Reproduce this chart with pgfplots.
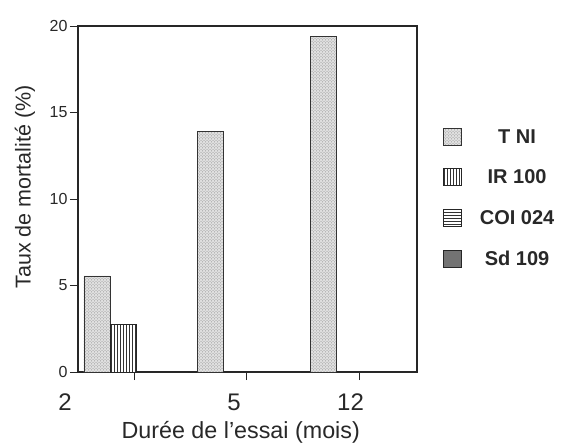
\documentclass[border=0pt]{standalone}
\usepackage{pgfplots}
\pgfplotsset{compat=1.18}
\usepackage{fontspec}
\setmainfont{Liberation Sans}
\usetikzlibrary{patterns}
\definecolor{txt}{RGB}{40,40,40}
\newcommand{\legtxt}[1]{\makebox[80pt]{\hspace{26pt}#1}}
\begin{document}
\begin{tikzpicture}
\begin{axis}[
  scale only axis,
  width=339pt, height=346pt,
  xmin=0, xmax=339, ymin=0, ymax=20,
  clip=false,
  axis line style={line width=1.3pt, black!85},
  ytick={0,5,10,15,20},
  xtick={56,168,281},
  xticklabels={},
  tick align=outside,
  xtick pos=bottom, ytick pos=left,
  major tick length=8pt,
  tick style={line width=1pt, black!85},
  /pgf/number format/assume math mode=true,
  yticklabel style={font=\fontsize{16}{18}\selectfont, text=txt, xshift=1pt},
  ylabel={Taux de mortalité (\%)},
  ylabel style={at={(axis description cs:0,0.535)}, anchor=center, yshift=53pt, font=\fontsize{21.5}{24}\selectfont, text=txt},
  xlabel={Durée de l’essai (mois)},
  xlabel style={at={(axis description cs:0.48,0)}, anchor=center, yshift=-60pt, font=\fontsize{23.3}{26}\selectfont, text=txt},
  legend style={draw=none, fill=none, at={(rel axis cs:1.077,0.503)}, anchor=west,
    inner sep=0pt, row sep=21pt, font=\fontsize{20}{22}\selectfont\bfseries,
    nodes={text=txt}, cells={anchor=center}},
  legend cell align=center,
  legend image code/.code={\draw[#1, line width=0.8pt] (0pt,-8.5pt) rectangle (18pt,8.5pt);},
  every axis legend/.append style={column sep=0pt},
  legend columns=1,
]
\addplot[ybar, bar width=26, bar shift=0pt, draw=black!80, line width=0.9pt,
  fill=black!12, postaction={pattern=crosshatch dots, pattern color=black!45}]
  coordinates {(19,5.55) (132,13.88) (245,19.38)};
\addlegendentry{\legtxt{T NI}}
\addplot[ybar, bar width=26, bar shift=0pt, draw=black!85, line width=0.9pt,
  fill=white, postaction={pattern=vertical lines, pattern color=black!80}]
  coordinates {(45,2.77) (158,0) (271,0)};
\addlegendentry{\legtxt{IR 100}}
\addplot[ybar, bar width=26, bar shift=0pt, draw=black!85, line width=0.9pt,
  fill=white, postaction={pattern=horizontal lines, pattern color=black!80}]
  coordinates {(71,0) (184,0) (297,0)};
\addlegendentry{\legtxt{COI 024}}
\addplot[ybar, bar width=26, bar shift=0pt, draw=black!85, line width=0.9pt,
  fill=black!55]
  coordinates {(97,0) (210,0) (323,0)};
\addlegendentry{\legtxt{Sd 109}}
\node[font=\fontsize{24}{26}\selectfont, text=txt] at (axis cs:-13,0) [yshift=-30pt] {2};
\node[font=\fontsize{24}{26}\selectfont, text=txt] at (axis cs:156,0) [yshift=-30pt] {5};
\node[font=\fontsize{24}{26}\selectfont, text=txt] at (axis cs:272.5,0) [yshift=-30pt] {12};
\end{axis}
\path (current axis.south west) ++(-78pt,-69pt) rectangle ++(561pt,441pt);
\end{tikzpicture}
\end{document}
